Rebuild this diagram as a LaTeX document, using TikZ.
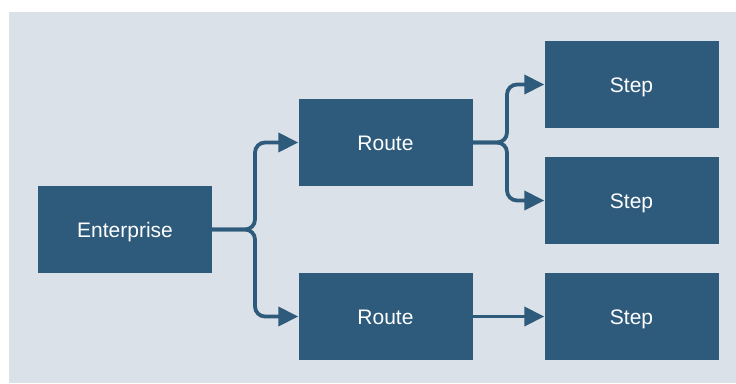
\documentclass[tikz,border=0pt]{standalone}
\usepackage{fontspec}
\setmainfont{Liberation Sans}
\usetikzlibrary{arrows.meta}
\definecolor{panel}{HTML}{DAE1E8}
\definecolor{boxblue}{HTML}{2E5A7C}
\begin{document}
\begin{tikzpicture}[x=1pt,y=-1pt,
  blockbox/.style={fill=boxblue, draw=none, minimum width=174pt, minimum height=87pt,
    inner sep=0pt, text=white, text height=15pt, text depth=0pt,
    font=\fontsize{21}{25}\selectfont},
  link/.style={draw=boxblue, line width=3.8pt, rounded corners=10pt,
    -{Triangle[length=20pt,width=19pt]}}]
  \useasboundingbox (0,0) rectangle (736,383);
  \fill[panel] (9,12) rectangle (736,383);

  \node[blockbox] (ent) at (125,229.5) {Enterprise};
  \node[blockbox] (r1)  at (385.5,142.5) {Route};
  \node[blockbox] (r2)  at (385.5,316.5) {Route};
  \node[blockbox] (s1)  at (631.5,84.5) {Step};
  \node[blockbox] (s2)  at (631.5,200.5) {Step};
  \node[blockbox] (s3)  at (631.5,316.5) {Step};

  % fork from the enterprise to both routes
  \coordinate (j1) at (255,229.5);
  \draw[link] (ent.east) -- (j1) |- (r1.west);
  \draw[link] (ent.east) -- (j1) |- (r2.west);

  % fork from the first route to its two steps
  \coordinate (j2) at (507,142.5);
  \draw[link] (r1.east) -- (j2) |- (s1.west);
  \draw[link] (r1.east) -- (j2) |- (s2.west);

  % straight link from the second route
  \draw[link] (r2.east) -- (s3.west);
\end{tikzpicture}
\end{document}
